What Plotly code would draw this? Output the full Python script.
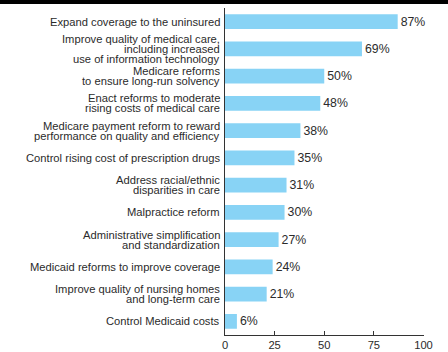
import plotly.graph_objects as go

# Health policy priorities, share of respondents (%)
priorities = [
    "Expand coverage to the uninsured",
    "Improve quality of medical care,<br>including increased<br>use of information technology",
    "Medicare reforms<br>to ensure long-run solvency",
    "Enact reforms to moderate<br>rising costs of medical care",
    "Medicare payment reform to reward<br>performance on quality and efficiency",
    "Control rising cost of prescription drugs",
    "Address racial/ethnic<br>disparities in care",
    "Malpractice reform",
    "Administrative simplification<br>and standardization",
    "Medicaid reforms to improve coverage",
    "Improve quality of nursing homes<br>and long-term care",
    "Control Medicaid costs",
]
shares = [87, 69, 50, 48, 38, 35, 31, 30, 27, 24, 21, 6]
x_ticks = [0, 25, 50, 75, 100]

FONT = "Arial, Liberation Sans, Helvetica, sans-serif"
TEXT = "#2b2b2b"
BAR = "#88D3F5"

W, H = 448, 352
# plot area in page pixels
left, right, top, bottom = 225, 423.5, 8, 335
x_dom = [left / W, right / W]
y_dom = [(H - bottom) / H, (H - top) / H]

fig = go.Figure(
    go.Bar(
        x=shares,
        y=priorities,
        orientation="h",
        marker=dict(color=BAR, line=dict(width=0)),
        text=[f"{v}%" for v in shares],
        textposition="outside",
        textfont=dict(family=FONT, size=12.3, color=TEXT),
        cliponaxis=False,
        hoverinfo="skip",
    )
)

# heavy rule across the top edge, drawn as a filled strip on its own hidden axes
fig.add_trace(
    go.Scatter(
        x=[0, 1, 1, 0, 0], y=[0, 0, 1, 1, 0],
        mode="lines", fill="toself", fillcolor="black",
        line=dict(width=0, color="black"),
        xaxis="x2", yaxis="y2",
        hoverinfo="skip", showlegend=False,
    )
)

# Category labels drawn line by line for tight line spacing
line_gap = 10
annotations = []
for cat in priorities:
    lines = cat.split("<br>")
    n = len(lines)
    for i, ln in enumerate(lines):
        annotations.append(
            dict(
                xref="paper", yref="y", x=x_dom[0], y=cat,
                xanchor="right", yanchor="middle",
                xshift=-3, yshift=(n - 1) / 2 * line_gap - i * line_gap,
                text=ln, showarrow=False,
                font=dict(family=FONT, size=11.2, color=TEXT),
            )
        )

fig.update_layout(
    width=W, height=H,
    margin=dict(l=0, r=0, t=0, b=0, autoexpand=False),
    paper_bgcolor="white", plot_bgcolor="white",
    bargap=0.45,
    showlegend=False,
    annotations=annotations,
    xaxis=dict(
        domain=x_dom,
        range=[0, 100], tickvals=x_ticks, ticktext=[str(t) for t in x_ticks],
        showgrid=False, zeroline=False,
        showline=True, linecolor="#333", linewidth=1,
        ticks="inside", ticklen=4, tickcolor="#333",
        tickfont=dict(family=FONT, size=11.2, color=TEXT),
        fixedrange=True,
    ),
    yaxis=dict(
        domain=y_dom,
        categoryorder="array", categoryarray=priorities,
        autorange="reversed",
        showticklabels=False, showgrid=False, zeroline=False,
        showline=True, linecolor="#333", linewidth=1, ticks="",
        fixedrange=True,
    ),
    xaxis2=dict(domain=[0, 1], range=[0, 1], visible=False,
                anchor="y2", fixedrange=True),
    yaxis2=dict(domain=[(H - 4) / H, 1], range=[0, 1], visible=False,
                anchor="x2", fixedrange=True),
)

fig.write_html("out.html")
